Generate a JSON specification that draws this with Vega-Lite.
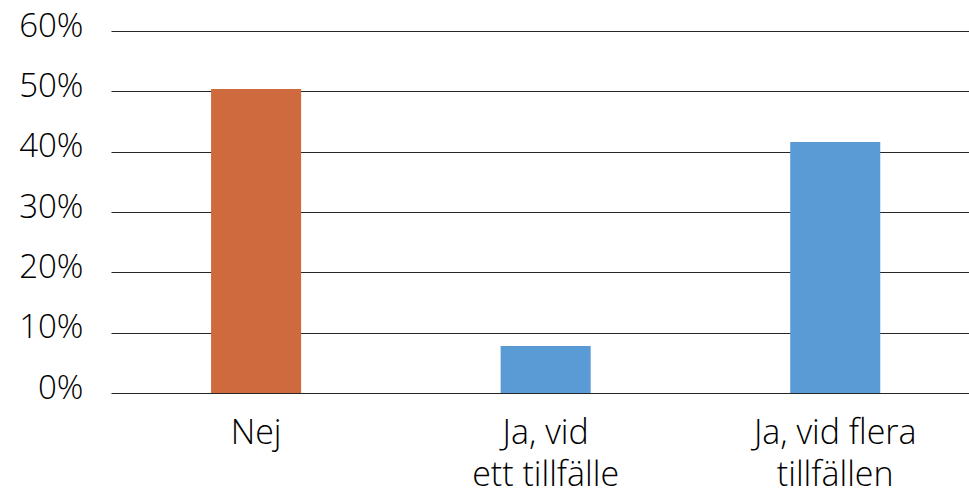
{
  "$schema": "https://vega.github.io/schema/vega-lite/v6.json",
  "width": 858,
  "height": 362,
  "autosize": {"type": "none"},
  "padding": {"left": 111, "top": 31, "right": 0, "bottom": 101},
  "background": "white",
  "data": {"values": [
    {"svar": "Nej", "andel": 0.504},
    {"svar": "Ja, vid ett tillfälle", "andel": 0.078},
    {"svar": "Ja, vid flera tillfällen", "andel": 0.416}
  ]},
  "mark": {"type": "bar"},
  "encoding": {
    "x": {
      "field": "svar", "type": "nominal", "sort": null,
      "scale": {"paddingInner": 0.689, "paddingOuter": 0.326, "align": 0.53},
      "axis": {
        "title": null, "labelAngle": 0, "domain": false, "ticks": false,
        "labelFont": "Open Sans", "labelFontSize": 34, "labelFontWeight": 300, "labelColor": "#000000",
        "labelPadding": 23, "labelLineHeight": 42, "labelBaseline": "top",
        "labelExpr": "datum.value == 'Ja, vid ett tillfälle' ? ['Ja, vid', 'ett tillfälle'] : datum.value == 'Ja, vid flera tillfällen' ? ['Ja, vid flera', 'tillfällen'] : datum.value"
      }
    },
    "y": {
      "field": "andel", "type": "quantitative",
      "scale": {"domain": [0, 0.6]},
      "axis": {
        "title": null, "format": ".0%", "values": [0, 0.1, 0.2, 0.3, 0.4, 0.5, 0.6],
        "domain": false, "ticks": false, "grid": true, "gridColor": "#000000", "gridWidth": 1, "gridOpacity": 0.85,
        "labelFont": "Open Sans", "labelFontSize": 33, "labelFontWeight": 300, "labelColor": "#000000",
        "labelPadding": 28, "labelOffset": -5
      }
    },
    "color": {
      "field": "svar", "type": "nominal", "legend": null,
      "scale": {"domain": ["Nej", "Ja, vid ett tillfälle", "Ja, vid flera tillfällen"], "range": ["#CF6A3E", "#5B9BD5", "#5B9BD5"]}
    }
  },
  "config": {"view": {"stroke": null}}
}
